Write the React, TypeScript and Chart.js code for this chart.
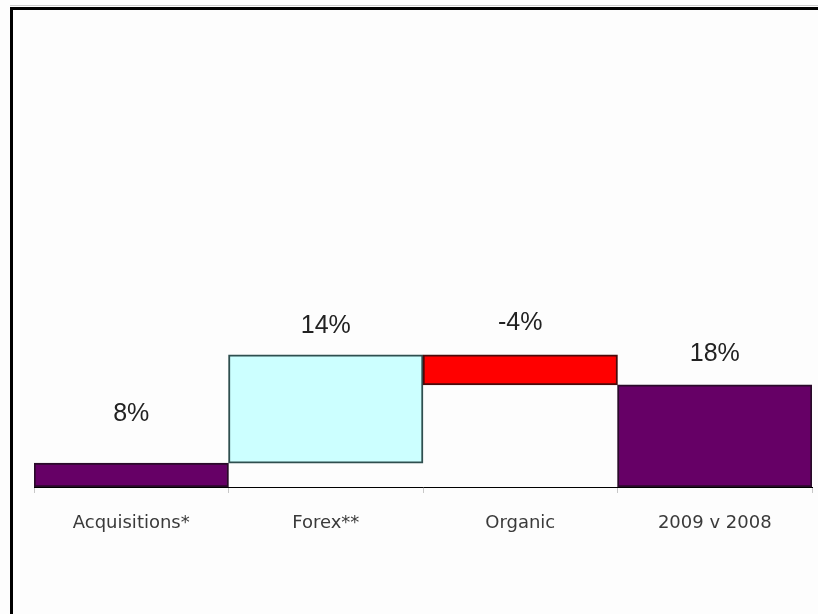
import React, { useEffect, useRef } from "react";
import { Chart, registerables } from "chart.js";

Chart.register(...registerables);

const categories = ["Acquisitions*", "Forex**", "Organic", "2009 v 2008"];
const barStarts = [0, 4.2, 18, 0];
const barEnds = [4.2, 23.3, 23.3, 18];
const valueLabels = ["8%", "14%", "-4%", "18%"];
const labelAnchors = [12.9, 28.4, 28.9, 23.5];
const fillColors = ["#660066", "#CCFFFF", "#FF0000", "#660066"];
const edgeColors = ["#2a0a2a", "#2f4f4f", "#4a0a0a", "#2a0a2a"];

const labelPlugin = {
  id: "valueLabels",
  afterDatasetsDraw(chart: any) {
    const ctx = chart.ctx;
    const meta = chart.getDatasetMeta(0);
    const yScale = chart.scales.y;
    ctx.save();
    ctx.font = "25px 'Liberation Sans', Arial, sans-serif";
    ctx.fillStyle = "#222";
    ctx.textAlign = "center";
    ctx.textBaseline = "middle";
    meta.data.forEach((el: any, i: number) => {
      ctx.fillText(valueLabels[i], el.x, yScale.getPixelForValue(labelAnchors[i]));
    });
    ctx.restore();
  },
};

export default function App() {
  const ref = useRef<HTMLCanvasElement>(null);
  useEffect(() => {
    if (!ref.current) return;
    const chart = new Chart(ref.current, {
      type: "bar",
      data: {
        labels: categories,
        datasets: [
          {
            data: barStarts.map((s, i) => [s, barEnds[i]]) as any,
            backgroundColor: fillColors,
            borderColor: edgeColors,
            borderWidth: 2,
            borderSkipped: false,
            barPercentage: 1,
            categoryPercentage: 1,
          },
        ],
      },
      options: {
        animation: false,
        responsive: false,
        layout: { padding: { top: 33, left: 34, right: 6, bottom: 0 } },
        plugins: { legend: { display: false }, tooltip: { enabled: false } },
        scales: {
          y: { display: false, min: 0, max: 80 },
          x: {
            offset: true,
            grid: {
              offset: true,
              drawOnChartArea: false,
              drawTicks: true,
              tickLength: 6,
              color: "#c8c8c8",
            },
            border: { display: true, color: "#000", width: 1 },
            ticks: {
              color: "#3a3a3a",
              padding: 20,
              font: { family: "'DejaVu Sans', sans-serif", size: 18 },
            },
            afterFit: (scale: any) => {
              scale.height = 127;
            },
          },
        },
      },
      plugins: [labelPlugin],
    });
    return () => chart.destroy();
  }, []);
  return (
    <div style={{ position: "absolute", left: 0, top: 0, width: 818, height: 614, overflow: "hidden", background: "#fdfdfd" }}>
      <div style={{ position: "absolute", left: 10, top: 5, width: 808, height: 1, background: "#cccccc" }} />
      <div
        style={{
          position: "absolute",
          left: 10,
          top: 7,
          width: 820,
          height: 620,
          borderTop: "3px solid #000",
          borderLeft: "3px solid #000",
        }}
      />
      <canvas ref={ref} width={818} height={614} style={{ position: "absolute", left: 0, top: 0, width: 818, height: 614 }} />
    </div>
  );
}
